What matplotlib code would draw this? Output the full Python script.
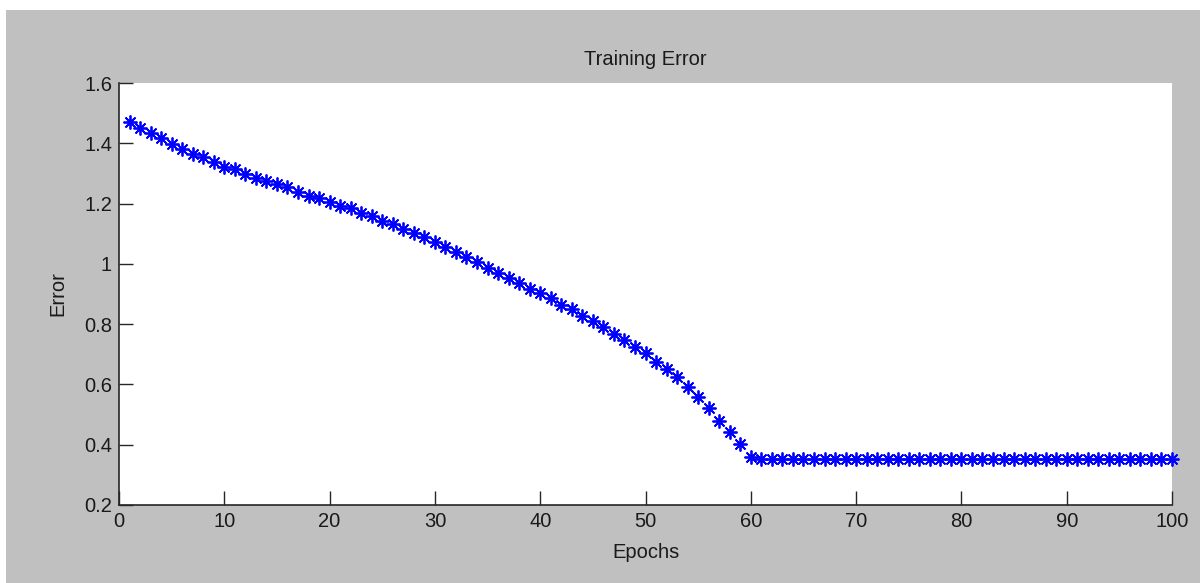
import numpy as np
import matplotlib
matplotlib.use('Agg')
import matplotlib.pyplot as plt
from matplotlib.patches import Rectangle

#--------------------------------------------------- data
epochs = np.arange(1, 101)
err_drop = [1.472, 1.450, 1.435, 1.419, 1.398, 1.380, 1.365, 1.356, 1.339, 1.322,
            1.314, 1.297, 1.286, 1.275, 1.264, 1.254, 1.237, 1.226, 1.218, 1.206,
            1.193, 1.184, 1.168, 1.159, 1.143, 1.131, 1.115, 1.104, 1.088, 1.073,
            1.056, 1.038, 1.024, 1.007, 0.985, 0.971, 0.954, 0.938, 0.917, 0.902,
            0.886, 0.864, 0.849, 0.827, 0.811, 0.790, 0.767, 0.747, 0.725, 0.703,
            0.675, 0.650, 0.626, 0.592, 0.559, 0.521, 0.480, 0.443, 0.401, 0.360]
err_flat = [0.352] * 40
train_err = np.array(err_drop + err_flat)

xticks = [0, 10, 20, 30, 40, 50, 60, 70, 80, 90, 100]
yticks = [0.2, 0.4, 0.6, 0.8, 1.0, 1.2, 1.4, 1.6]
ytick_lbls = ['0.2', '0.4', '0.6', '0.8', '1', '1.2', '1.4', '1.6']

#--------------------------------------------------- figure (matlab look)
plt.rcParams['font.family'] = ['Liberation Sans', 'DejaVu Sans']
fsz = 14.5
grey = '#c0c0c0'

fig = plt.figure(figsize=(12, 5.83), dpi=100, facecolor='white')
fig.patches.append(Rectangle((6/1200., 0), 1, 1 - 10/583., transform=fig.transFigure,
                             facecolor=grey, edgecolor='none', zorder=-10))

ax = fig.add_axes([119/1200., 78/583., 1053/1200., 422/583.])
ax.set_facecolor('white')

ax.plot(epochs, train_err, linestyle='none', marker=(8, 2, 0), markersize=10,
        markeredgewidth=1.3, color='#0000ff', markeredgecolor='#0000ff', clip_on=False)

ax.set_xlim(0, 100)
ax.set_ylim(0.2, 1.6)
ax.set_xticks(xticks)
ax.set_yticks(yticks)
ax.set_yticklabels(ytick_lbls)
ax.tick_params(direction='in', length=10, width=1, color='#262626',
               labelsize=fsz, labelcolor='#1a1a1a', pad=5)
for sp in ['top', 'right']:
  ax.spines[sp].set_visible(False)
for sp in ['left', 'bottom']:
  ax.spines[sp].set_linewidth(1.2)
  ax.spines[sp].set_color('#262626')

ax.set_title('Training Error', fontsize=fsz, color='#1a1a1a', pad=13)
ax.set_xlabel('Epochs', fontsize=fsz, color='#1a1a1a', labelpad=9)
ax.set_ylabel('Error', fontsize=fsz, color='#1a1a1a', labelpad=12)

fig.savefig('out.png', dpi=100, facecolor=fig.get_facecolor())
